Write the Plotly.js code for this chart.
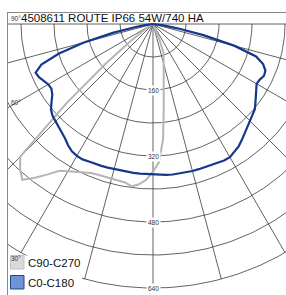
<!DOCTYPE html>
<html>
<head>
<meta charset="utf-8">
<script src="https://cdn.plot.ly/plotly-3.0.1.min.js"></script>
<style>html,body{margin:0;padding:0;background:#fff;overflow:hidden}</style>
</head>
<body>
<div id="chart"></div>
<script>
// ---- data (gamma angle in degrees; negative = left half of the C-plane) ----
const gammaAngles = [-90,-87.5,-85,-82.5,-80,-77.5,-75,-72.5,-70,-67.5,-65,-62.5,-60,-57.5,-55,-52.5,-50,-47.5,-45,-42.5,-40,-37.5,-35,-32.5,-30,-27.5,-25,-22.5,-20,-17.5,-15,-12.5,-10,-7.5,-5,-2.5,0,2.5,5,7.5,10,12.5,15,17.5,20,22.5,25,27.5,30,32.5,35,37.5,40,42.5,45,47.5,50,52.5,55,57.5,60,62.5,65,67.5,70,72.5,75,77.5,80,82.5,85,87.5,90];
// C0-C180 plane intensities (cd/klm)
const c0c180 = [0,2,8,20,45,100,175,240,288,308,305,298,293,292,298,310,323,330,334,338,343,350,359,366,369,370,368,367,366,365,364,364,364,364,364,364,365,366,367,368,368,369,369,369,369,370,371,373,373,368,362,354,346,338,332,328,322,313,305,296,290,292,297,295,284,262,205,125,60,22,8,2,0];
// C90-C270 plane intensities (cd/klm)
const c90c270 = [0,0,0,0,0,0,0,0,0,0,2,4,8,15,30,70,150,285,455,477,493,470,445,422,412,404,398,391,389,388,388,388,390,397,390,378,358,335,280,200,150,118,98,86,75,40,12,5,3,2,1,0,0,0,0,0,0,0,0,0,0,0,0,0,0,0,0,0,0,0,0,0,0];
const seriesNames = ["C90-C270", "C0-C180"];
const ringValues = [80,160,240,320,400,480,560,640];
const ringLabels = [160,320,480,640];
const spokeAngles = [-90,-75,-60,-45,-30,-15,0,15,30,45,60,75,90];
const angleLabels = [90,60,30];
const titleText = "4508611 ROUTE IP66 54W/740 HA";

// ---- layout constants ----
const W = 286, H = 295;
const S = 0.4125;            // px per cd
const OX = 153, OY = 24;     // pole position in px
const L = 8, T = 13;         // frame left / top in px
const xr = [(L - OX) / S, (W - OX) / S];
const yr = [-(H - OY) / S, (OY - T) / S];
const rad = d => d * Math.PI / 180;
const toXY = (angs, rs) => ({
  x: angs.map((a, i) => rs[i] * Math.sin(rad(a))),
  y: angs.map((a, i) => -rs[i] * Math.cos(rad(a)))
});
const px2paperX = px => (px - L) / (W - L);
const px2paperY = py => (H - py) / (H - T);

// grid traces
const gx = [], gy = [];
ringValues.forEach(r => {
  for (let a = -90; a <= 90; a += 1) { gx.push(r * Math.sin(rad(a))); gy.push(-r * Math.cos(rad(a))); }
  gx.push(null); gy.push(null);
});
const rmax = ringValues[ringValues.length - 1];
spokeAngles.forEach(a => {
  gx.push(0, rmax * Math.sin(rad(a)), null);
  gy.push(0, -rmax * Math.cos(rad(a)), null);
});

const grey = toXY(gammaAngles, c90c270);
const blue = toXY(gammaAngles, c0c180);
const greyColor = '#b5b5b5', blueColor = '#15388c';

const traces = [
  {type: 'scatter', mode: 'lines', x: gx, y: gy, line: {color: '#3a3a3a', width: 0.8}, showlegend: false, hoverinfo: 'skip'},
  {type: 'scatter', mode: 'lines', name: seriesNames[0], x: grey.x, y: grey.y, line: {color: greyColor, width: 2}, showlegend: false},
  {type: 'scatter', mode: 'lines', name: seriesNames[1], x: blue.x, y: blue.y, line: {color: blueColor, width: 2.2}, showlegend: false}
];

const annotations = [];
const lblFont = {family: 'Arial, Liberation Sans, sans-serif', size: 6.5, color: '#333'};
// title
annotations.push({xref: 'paper', yref: 'paper', x: px2paperX(19), y: px2paperY(18.5), xanchor: 'left', yanchor: 'middle',
  text: titleText, showarrow: false, font: {family: 'Arial, Liberation Sans, sans-serif', size: 11.5, color: '#111'}});
// ring labels
ringLabels.forEach(r => annotations.push({xref: 'x', yref: 'y', x: 0, y: -r, text: String(r), showarrow: false,
  bgcolor: '#ffffff', borderpad: 1, font: lblFont}));
// angle labels (left side)
angleLabels.forEach(a => {
  const t = rad(a);
  let x = -rmax * Math.sin(t), y = -rmax * Math.cos(t);
  let yanchor = 'top';
  if (x < xr[0]) { x = xr[0]; y = (a === 90) ? 0 : -(-xr[0]) / Math.tan(t); yanchor = 'bottom'; }
  annotations.push({xref: 'paper', yref: 'y', x: px2paperX(9), y: y, xanchor: 'left', yanchor: yanchor,
    text: a + '°', showarrow: false, font: lblFont});
});
// legend
const legendRows = [{name: seriesNames[0], fill: '#d9d9d9', line: '#c2c2c2', cy: 262.5},
                    {name: seriesNames[1], fill: '#6e93d6', line: '#23448f', cy: 282.5}];
const shapes = [{type: 'rect', xref: 'paper', yref: 'paper', x0: px2paperX(9), x1: px2paperX(82), y0: px2paperY(295), y1: px2paperY(255.5),
  fillcolor: '#ffffff', line: {width: 0}, layer: 'above'}];
legendRows.forEach(row => {
  shapes.push({type: 'rect', xref: 'paper', yref: 'paper', x0: px2paperX(10.5), x1: px2paperX(24), y0: px2paperY(row.cy + 6.5), y1: px2paperY(row.cy - 7),
    fillcolor: row.fill, line: {color: row.line, width: 1}, layer: 'above'});
  annotations.push({xref: 'paper', yref: 'paper', x: px2paperX(25.5), y: px2paperY(row.cy), xanchor: 'left', yanchor: 'middle',
    text: row.name, showarrow: false, font: {family: 'Arial, Liberation Sans, sans-serif', size: 11.5, color: '#111'}});
});

const layout = {
  width: W, height: H,
  margin: {l: L, r: 0, t: T, b: 0, pad: 0},
  paper_bgcolor: '#ffffff', plot_bgcolor: '#ffffff',
  showlegend: false,
  xaxis: {range: xr, showgrid: false, zeroline: false, showticklabels: false, ticks: '', showline: true, side: 'top',
    linecolor: '#8a8a8a', linewidth: 1, fixedrange: true},
  yaxis: {range: yr, showgrid: false, zeroline: false, showticklabels: false, ticks: '', showline: true,
    linecolor: '#8a8a8a', linewidth: 1, fixedrange: true},
  annotations: annotations,
  shapes: shapes
};
Plotly.newPlot('chart', traces, layout, {staticPlot: true, displayModeBar: false});
</script>
</body>
</html>
